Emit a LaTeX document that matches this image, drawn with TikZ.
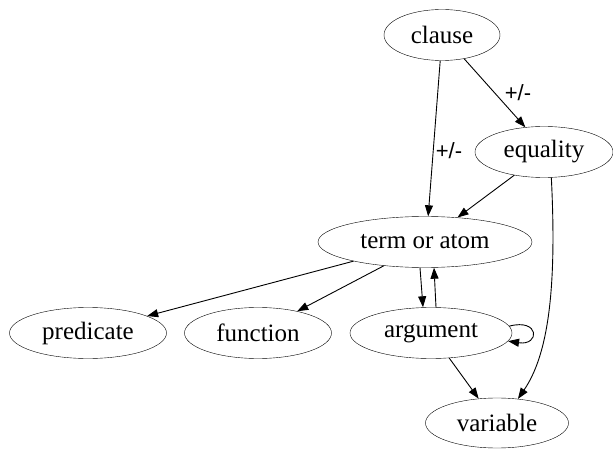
\documentclass[tikz,border=0pt]{standalone}
\usepackage{fontspec}
\setmainfont{Liberation Serif}
\newfontfamily\lblfont{Liberation Sans}
\usetikzlibrary{shapes.geometric,arrows.meta}
\begin{document}
\begin{tikzpicture}[x=1pt,y=-1pt,
  gnode/.style={draw,ellipse,inner sep=0pt,minimum height=51pt,font=\fontsize{25}{30}\selectfont},
  edge/.style={draw,line width=0.9pt,-{Triangle[length=11pt,width=8pt]}},
  elabel/.style={font=\lblfont\fontsize{22}{26}\selectfont,inner sep=0pt}]
\useasboundingbox (0,0) rectangle (613,449);
\node[gnode,minimum width=116pt] (clause) at (442,35) {clause};
\node[gnode,minimum width=138pt] (equality) at (544,152) {equality};
\node[gnode,minimum width=214pt] (term) at (425,242) {term or atom};
\node[gnode,minimum width=157pt] (predicate) at (88,333) {predicate};
\node[gnode,minimum width=147pt] (function) at (258,333) {function};
\node[gnode,minimum width=162pt] (argument) at (431,333) {argument};
\node[gnode,minimum width=143pt,minimum height=50pt] (variable) at (497,423) {variable};

\node[elabel] (l1) at (449,151) {+/-};
\node[elabel] (l2) at (518,93) {+/-};

\draw[edge] (clause.-94) -- (term.83);
\draw[edge] (clause.-47) -- (equality.127);
\draw[edge] (equality.-142) -- (term.37);
\draw[edge] (equality.-74) .. controls (557,290) and (548,355) .. (variable.49);
\draw[edge] (term.-165) -- (predicate.16);
\draw[edge] (term.-150) -- (function.29);
\draw[edge] ([xshift=-5pt]term.south) -- ([xshift=-8pt]argument.north);
\draw[edge] ([xshift=5pt]argument.north) -- ([xshift=9pt]term.south);
\draw[edge] (argument.5) .. controls (540,318) and (540,346) .. (argument.-6);
\draw[edge] (argument.-54) -- (variable.127);
\end{tikzpicture}
\end{document}
